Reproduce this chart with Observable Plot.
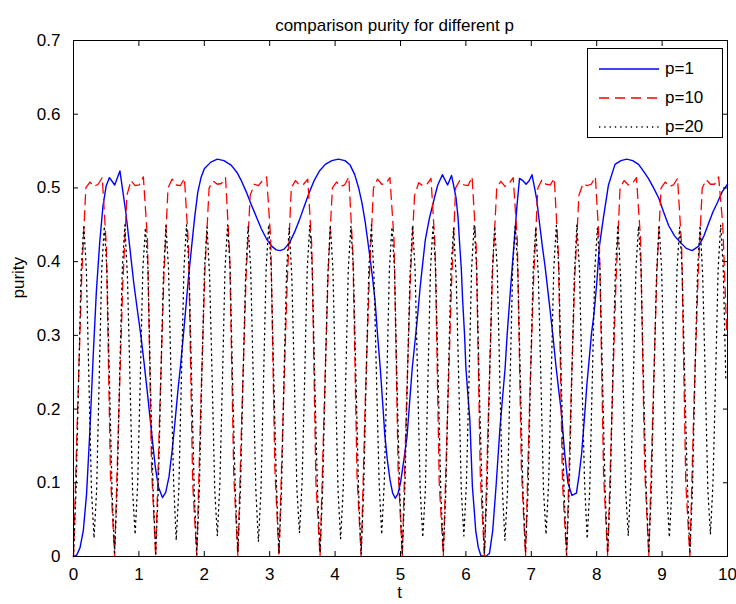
<!DOCTYPE html>
<html><head><meta charset="utf-8">
<script src="https://cdn.jsdelivr.net/npm/d3@7"></script>
<script src="https://cdn.jsdelivr.net/npm/@observablehq/plot@0.6"></script>
<style>
html,body{margin:0;padding:0;background:#fff;}
#wrap{position:relative;width:736px;height:604px;overflow:hidden;}
#legend{position:absolute;left:587px;top:48px;width:134px;height:88px;border:1px solid #000;background:#fff;font:17px "Liberation Sans",Arial,sans-serif;color:#000;}
#legend .row{position:absolute;left:0;height:24px;width:134px;}
#legend svg{position:absolute;left:10px;top:0;}
#legend span{position:absolute;left:77px;top:2px;line-height:20px;}
</style></head><body><div id="wrap"></div>
<script>
const title = "comparison purity for different p";
const xLabel = "t";
const yLabel = "purity";
const xTicks = [0,1,2,3,4,5,6,7,8,9,10];
const yTicks = [0,0.1,0.2,0.3,0.4,0.5,0.6,0.7];
const seriesNames = ["p=1","p=10","p=20"];

// p=1 (read point by point)
const blueT = [0,0.05,0.1,0.15,0.2,0.25,0.3,0.35,0.4,0.45,0.5,0.55,0.63,0.71,0.76,0.8,0.86,0.92,0.98,1.03,1.08,1.13,1.2,1.25,1.3,1.36,1.41,1.46,1.51,1.56,1.6,1.64,1.68,1.72,1.76,1.8,1.85,1.9,1.95,2.0,2.1,2.2,2.3,2.41,2.5,2.56,2.64,2.72,2.8,2.87,2.95,3.03,3.1,3.16,3.22,3.3,3.38,3.46,3.54,3.61,3.68,3.76,3.85,3.95,4.05,4.15,4.23,4.3,4.36,4.41,4.46,4.53,4.57,4.61,4.65,4.69,4.73,4.76,4.8,4.84,4.88,4.92,4.96,5.0,5.05,5.1,5.14,5.18,5.22,5.26,5.3,5.34,5.38,5.44,5.52,5.57,5.64,5.72,5.78,5.82,5.85,5.88,5.9,5.93,5.95,5.98,6.0,6.03,6.06,6.08,6.1,6.13,6.15,6.19,6.23,6.3,6.36,6.41,6.46,6.52,6.56,6.6,6.63,6.67,6.71,6.75,6.78,6.82,6.87,6.92,6.97,7.01,7.05,7.08,7.13,7.17,7.21,7.28,7.33,7.38,7.42,7.46,7.51,7.56,7.62,7.69,7.73,7.77,7.81,7.85,7.92,7.96,8.0,8.04,8.1,8.18,8.28,8.37,8.46,8.55,8.64,8.72,8.79,8.87,8.95,9.02,9.1,9.19,9.28,9.37,9.46,9.56,9.64,9.72,9.78,9.85,9.92,10];
const blueY = [0,0.002,0.012,0.035,0.085,0.17,0.27,0.36,0.425,0.475,0.503,0.514,0.504,0.523,0.492,0.467,0.42,0.372,0.332,0.3,0.262,0.222,0.163,0.122,0.094,0.08,0.087,0.108,0.145,0.19,0.228,0.262,0.3,0.34,0.38,0.415,0.458,0.494,0.514,0.526,0.535,0.539,0.537,0.531,0.521,0.511,0.495,0.477,0.46,0.445,0.431,0.421,0.416,0.415,0.417,0.425,0.44,0.458,0.478,0.495,0.51,0.523,0.532,0.537,0.539,0.537,0.531,0.518,0.5,0.48,0.454,0.408,0.38,0.348,0.3,0.256,0.205,0.165,0.13,0.104,0.086,0.079,0.085,0.1,0.13,0.163,0.21,0.256,0.29,0.325,0.365,0.398,0.43,0.458,0.487,0.504,0.518,0.504,0.517,0.5,0.486,0.46,0.43,0.39,0.348,0.3,0.256,0.22,0.186,0.14,0.094,0.06,0.035,0.012,0.001,0,0.004,0.035,0.094,0.173,0.215,0.256,0.3,0.348,0.395,0.44,0.475,0.513,0.51,0.505,0.51,0.518,0.5,0.486,0.449,0.42,0.394,0.34,0.3,0.256,0.225,0.196,0.14,0.1,0.083,0.086,0.11,0.14,0.185,0.233,0.302,0.33,0.37,0.42,0.458,0.504,0.532,0.537,0.539,0.537,0.532,0.522,0.513,0.5,0.486,0.468,0.449,0.435,0.426,0.418,0.415,0.421,0.435,0.454,0.468,0.481,0.495,0.505];

// p=10, sampled every pi/50 in t
const redStep = Math.PI / 50;
const redY = [
0,0.20,0.38,0.50,0.508,0.502,0.505,0.514,0.42,0.11,
0,0.19,0.37,0.49,0.510,0.503,0.504,0.515,0.43,0.12,
0,0.20,0.38,0.50,0.512,0.504,0.503,0.513,0.42,0.10,
0,0.21,0.39,0.50,0.509,0.505,0.506,0.514,0.41,0.11,
0,0.20,0.38,0.49,0.505,0.503,0.510,0.515,0.43,0.12,
0,0.19,0.37,0.50,0.510,0.504,0.505,0.512,0.42,0.10,
0,0.20,0.39,0.50,0.508,0.502,0.504,0.515,0.41,0.11,
0,0.21,0.38,0.50,0.512,0.505,0.506,0.514,0.43,0.12,
0,0.20,0.38,0.49,0.507,0.503,0.505,0.513,0.42,0.10,
0,0.19,0.37,0.50,0.510,0.504,0.503,0.515,0.42,0.11,
0,0.20,0.39,0.50,0.509,0.502,0.506,0.514,0.43,0.12,
0,0.21,0.38,0.50,0.511,0.505,0.504,0.513,0.41,0.10,
0,0.20,0.38,0.49,0.506,0.503,0.505,0.515,0.42,0.11,
0,0.19,0.37,0.50,0.510,0.504,0.506,0.514,0.43,0.12,
0,0.20,0.39,0.50,0.508,0.502,0.504,0.513,0.42,0.10,
0,0.21,0.38,0.50,0.511,0.505,0.505,0.515,0.45,0.30];

// p=20, sampled every pi/80 in t
const blackStep = Math.PI / 80;
const blackY = [
0.000,0.09,0.24,0.39,0.450,0.39,0.24,0.09,
0.025,0.09,0.24,0.39,0.448,0.39,0.24,0.09,
0.005,0.09,0.25,0.39,0.450,0.38,0.24,0.09,
0.030,0.10,0.24,0.39,0.446,0.39,0.23,0.09,
0.004,0.09,0.24,0.38,0.449,0.39,0.24,0.10,
0.022,0.09,0.24,0.39,0.450,0.39,0.24,0.09,
0.003,0.09,0.25,0.39,0.447,0.38,0.24,0.09,
0.028,0.10,0.24,0.39,0.450,0.39,0.23,0.09,
0.006,0.09,0.24,0.38,0.448,0.39,0.24,0.09,
0.020,0.09,0.24,0.39,0.450,0.39,0.24,0.10,
0.004,0.09,0.25,0.39,0.446,0.38,0.24,0.09,
0.032,0.10,0.24,0.39,0.449,0.39,0.23,0.09,
0.005,0.09,0.24,0.38,0.450,0.39,0.24,0.09,
0.024,0.09,0.24,0.39,0.448,0.39,0.24,0.09,
0.003,0.09,0.25,0.39,0.450,0.38,0.24,0.10,
0.030,0.10,0.24,0.39,0.447,0.39,0.23,0.09,
0.002,0.09,0.24,0.38,0.449,0.39,0.24,0.09,
0.026,0.09,0.24,0.39,0.450,0.39,0.24,0.09,
0.005,0.09,0.25,0.39,0.446,0.38,0.24,0.09,
0.028,0.10,0.24,0.39,0.450,0.39,0.23,0.10,
0.004,0.09,0.24,0.38,0.448,0.39,0.24,0.09,
0.022,0.09,0.24,0.39,0.450,0.39,0.24,0.09,
0.006,0.09,0.25,0.39,0.447,0.38,0.24,0.09,
0.030,0.10,0.24,0.39,0.449,0.39,0.23,0.09,
0.003,0.09,0.24,0.38,0.450,0.39,0.24,0.10,
0.024,0.09,0.24,0.39,0.446,0.39,0.24,0.09,
0.005,0.09,0.25,0.39,0.450,0.38,0.24,0.09,
0.028,0.10,0.24,0.39,0.448,0.39,0.23,0.09,
0.004,0.09,0.24,0.38,0.450,0.39,0.24,0.09,
0.026,0.09,0.24,0.39,0.447,0.39,0.24,0.10,
0.005,0.09,0.25,0.39,0.449,0.38,0.24,0.09,
0.030,0.10,0.24,0.39,0.450,0.39,0.24];

const data1 = blueT.map((t, i) => ({t, v: blueY[i], s: seriesNames[0]}));
const data10 = redY.map((v, i) => ({t: i * redStep, v, s: seriesNames[1]}));
const data20 = blackY.map((v, i) => ({t: i * blackStep, v, s: seriesNames[2]}));

const styles = [
  {stroke: "#0000ff", width: 1.4, dash: null},
  {stroke: "#ff0000", width: 1.3, dash: "10,6"},
  {stroke: "#000000", width: 1.3, dash: "1.3,4"}
];
const FONT = '"Liberation Sans", Arial, sans-serif';

const chart = Plot.plot({
  width: 736, height: 604,
  marginLeft: 73, marginRight: 9, marginTop: 40, marginBottom: 48,
  style: {fontFamily: FONT, fontSize: "17px", color: "#000", background: "#fff"},
  x: {domain: [0, 10]},
  y: {domain: [0, 0.7]},
  marks: [
    Plot.line(data1, {x: "t", y: "v", stroke: styles[0].stroke, strokeWidth: styles[0].width}),
    Plot.line(data10, {x: "t", y: "v", stroke: styles[1].stroke, strokeWidth: styles[1].width, strokeDasharray: styles[1].dash}),
    Plot.line(data20, {x: "t", y: "v", stroke: styles[2].stroke, strokeWidth: styles[2].width, strokeDasharray: styles[2].dash}),
    Plot.frame({stroke: "#000"}),
    Plot.axisX({ticks: xTicks, tickSize: -5, tickPadding: 16, tickFormat: d => String(d), label: null}),
    Plot.axisX({anchor: "top", ticks: xTicks, tickSize: -5, tickFormat: () => "", label: null}),
    Plot.axisY({ticks: yTicks, tickSize: -5, tickPadding: 18, tickFormat: d => d === 0 ? "0" : d.toFixed(1), label: null}),
    Plot.axisY({anchor: "right", ticks: yTicks, tickSize: -5, tickFormat: () => "", label: null}),
    Plot.text([title], {frameAnchor: "top", dy: -22, dx: -6, fontSize: 17, letterSpacing: "0.5px"}),
    Plot.text([xLabel], {frameAnchor: "bottom", dy: 41, dx: -1}),
    Plot.text([yLabel], {frameAnchor: "left", dx: -55, rotate: -90})
  ]
});

const wrap = document.getElementById("wrap");
wrap.appendChild(chart);

// legend
const legend = document.createElement("div");
legend.id = "legend";
seriesNames.forEach((name, i) => {
  const row = document.createElement("div");
  row.className = "row";
  row.style.top = (8 + i * 29) + "px";
  const st = styles[i];
  row.innerHTML = `<svg width="62" height="24"><line x1="1" y1="12" x2="61" y2="12" stroke="${st.stroke}" stroke-width="${st.width}" ${st.dash ? `stroke-dasharray="${st.dash}"` : ""}/></svg><span>${name}</span>`;
  legend.appendChild(row);
});
wrap.appendChild(legend);
</script></body></html>
